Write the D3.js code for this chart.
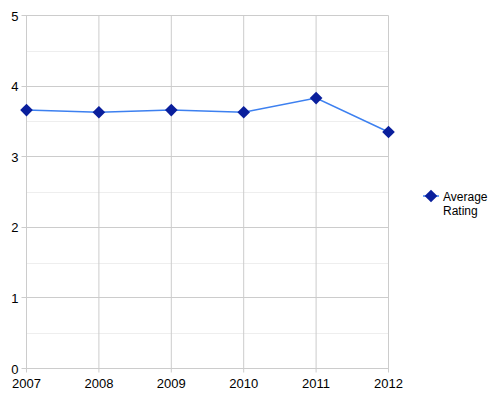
<!DOCTYPE html>
<html><head><meta charset="utf-8">
<script src="https://cdn.jsdelivr.net/npm/d3@7"></script>
<style>body{margin:0;background:#fff}svg{display:block}text{font-family:"Liberation Sans",Arial,sans-serif;}</style>
</head><body>
<svg id="c" width="500" height="400"></svg>
<script>
const years = ["2007","2008","2009","2010","2011","2012"];
const ratings = [3.66, 3.63, 3.66, 3.63, 3.83, 3.35];
const yTicks = [0,1,2,3,4,5];
const yMinor = [0.5,1.5,2.5,3.5,4.5];
const seriesName = ["Average", "Rating"];

const svg = d3.select("#c");
const L=26.5, R=388.5, T=15.5, B=368.5;
const x = d3.scalePoint().domain(years).range([L,R]);
const y = d3.scaleLinear().domain([0,5]).range([B,T]);

const g = svg.append("g");
g.selectAll(".mn").data(yMinor).enter().append("line")
 .attr("x1",L).attr("x2",R).attr("y1",d=>Math.round(y(d))+0.5).attr("y2",d=>Math.round(y(d))+0.5)
 .attr("stroke","#eeeeee").attr("stroke-width",1);
g.selectAll(".mj").data(yTicks).enter().append("line")
 .attr("x1",L-5).attr("x2",R).attr("y1",d=>Math.round(y(d)-0.5)+0.5).attr("y2",d=>Math.round(y(d)-0.5)+0.5)
 .attr("stroke","#cccccc").attr("stroke-width",1);
g.selectAll(".vx").data(years).enter().append("line")
 .attr("x1",d=>x(d)).attr("x2",d=>x(d)).attr("y1",T).attr("y2",B+4)
 .attr("stroke","#cccccc").attr("stroke-width",1);

g.selectAll(".yl").data(yTicks).enter().append("text")
 .attr("x",L-8).attr("y",d=>y(d)+5).attr("text-anchor","end")
 .attr("font-size",13).attr("fill","#000").text(d=>d);
g.selectAll(".xl").data(years).enter().append("text")
 .attr("x",d=>x(d)).attr("y",B+19).attr("text-anchor","middle")
 .attr("font-size",13).attr("fill","#000").text(d=>d);

const line = d3.line().x((d,i)=>x(years[i])).y(d=>y(d));
g.append("path").datum(ratings).attr("d",line).attr("fill","none")
 .attr("stroke","#3d80f0").attr("stroke-width",1.5);

const sym = d3.symbol().type(d3.symbolSquare).size(80);
g.selectAll(".pt").data(ratings).enter().append("path")
 .attr("d",sym).attr("transform",(d,i)=>`translate(${x(years[i])},${y(d)}) rotate(45)`)
 .attr("fill","#0a1f9c");

// legend
const lg = svg.append("g");
lg.append("line").attr("x1",423).attr("x2",439).attr("y1",196).attr("y2",196).attr("stroke","#3d80f0").attr("stroke-width",1.5);
lg.append("path").attr("d",sym).attr("transform","translate(431,196) rotate(45)").attr("fill","#0a1f9c");
lg.selectAll("text").data(seriesName).enter().append("text")
 .attr("x",443).attr("y",(d,i)=>201+i*13.5).attr("font-size",12).attr("fill","#000").text(d=>d);
</script>
</body></html>
